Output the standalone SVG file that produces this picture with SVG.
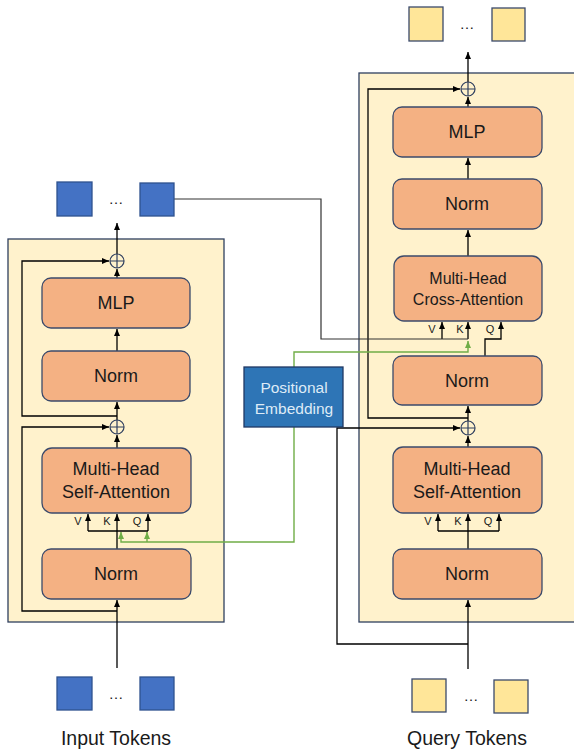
<svg xmlns="http://www.w3.org/2000/svg" width="574" height="751" viewBox="0 0 574 751">
<style>
.panel{fill:#FFF2CC;stroke:#2F3F5F;stroke-width:1.3}
.blk{fill:#F4B183;stroke:#3B4A6B;stroke-width:1.3}
.lbl{font-family:"Liberation Sans",Arial,sans-serif;fill:#1a1a1a;text-anchor:middle}
.big{font-size:18px}
.mid{font-size:16px}
.qkv{font-size:11px}
.tok{font-size:19.5px}
.dots{font-family:"Liberation Sans",Arial,sans-serif;font-size:15px;fill:#1a1a1a;text-anchor:middle}
.btok{fill:#4472C4;stroke:#2F528F;stroke-width:1.3}
.ytok{fill:#FFE699;stroke:#3B4A6B;stroke-width:1.3}
.ln{fill:none;stroke:#000;stroke-width:1.3}
.gray{fill:none;stroke:#333;stroke-width:1.2}
.grn{fill:none;stroke:#70AD47;stroke-width:1.4}
.plus{fill:none;stroke:#2F3F5F;stroke-width:1.2}
.pe{fill:#2E75B6;stroke:#1F3864;stroke-width:1.3}
.petxt{font-family:"Liberation Sans",Arial,sans-serif;font-size:15.5px;fill:#DEEBF7;text-anchor:middle}
</style>
<defs>
<marker id="ah" markerUnits="userSpaceOnUse" markerWidth="8" markerHeight="8" refX="7" refY="3" orient="auto">
<path d="M0,0 L7,3 L0,6 z" fill="#000"/>
</marker>
<marker id="ahg" markerUnits="userSpaceOnUse" markerWidth="8" markerHeight="8" refX="7" refY="3" orient="auto">
<path d="M0,0 L7,3 L0,6 z" fill="#70AD47"/>
</marker>
</defs>

<rect width="574" height="751" fill="#fff"/>

<g id="encoder-panel"><rect class="panel" x="8" y="239" width="216" height="383"/></g>
<g id="decoder-panel"><rect class="panel" x="359" y="73" width="225" height="549"/></g>

<g id="connectors">
<path class="ln" d="M117,668 V600" marker-end="url(#ah)"/>
<path class="ln" d="M117,611 H22 V427 H109" marker-end="url(#ah)"/>
<path class="ln" d="M117,549 V514" marker-end="url(#ah)"/>
<path class="ln" d="M88,531 H148"/>
<path class="ln" d="M88,531 V514" marker-end="url(#ah)"/>
<path class="ln" d="M148,531 V514" marker-end="url(#ah)"/>
<path class="ln" d="M117,448 V435" marker-end="url(#ah)"/>
<path class="ln" d="M117,420 V402" marker-end="url(#ah)"/>
<path class="ln" d="M117,416 H22 V261 H109" marker-end="url(#ah)"/>
<path class="ln" d="M117,351 V329" marker-end="url(#ah)"/>
<path class="ln" d="M117,278 V269" marker-end="url(#ah)"/>
<path class="ln" d="M117,254 V223" marker-end="url(#ah)"/>
<path class="ln" d="M468,669 V600" marker-end="url(#ah)"/>
<path class="ln" d="M468,644 H337 V428 H460" marker-end="url(#ah)"/>
<path class="ln" d="M468,549 V514" marker-end="url(#ah)"/>
<path class="ln" d="M438,531 H499"/>
<path class="ln" d="M438,531 V514" marker-end="url(#ah)"/>
<path class="ln" d="M499,531 V514" marker-end="url(#ah)"/>
<path class="ln" d="M468,447 V436" marker-end="url(#ah)"/>
<path class="ln" d="M468,421 V406" marker-end="url(#ah)"/>
<path class="ln" d="M468,418 H368 V89 H460" marker-end="url(#ah)"/>
<path class="ln" d="M485,356 V339 H501 V322" marker-end="url(#ah)"/>
<path class="ln" d="M442,339 V322" marker-end="url(#ah)"/>
<path class="ln" d="M468,339 V322" marker-end="url(#ah)"/>
<path class="ln" d="M468,256 V230" marker-end="url(#ah)"/>
<path class="ln" d="M468,179 V158" marker-end="url(#ah)"/>
<path class="ln" d="M468,107 V97" marker-end="url(#ah)"/>
<path class="ln" d="M468,82 V52" marker-end="url(#ah)"/>
<path class="gray" d="M174,199 H321 V339 H468"/>
<path class="grn" d="M294,367 V352 H468 V341" marker-end="url(#ahg)"/>
<path class="grn" d="M294,427 V542 H121 V532" marker-end="url(#ahg)"/>
<path class="grn" d="M147,542 V532" marker-end="url(#ahg)"/>
</g>

<g id="left-plus-top"><circle class="plus" cx="117" cy="261" r="7"/><path class="plus" d="M110,261 H124 M117,254 V268"/></g>
<g id="left-plus-bottom"><circle class="plus" cx="117" cy="427" r="7"/><path class="plus" d="M110,427 H124 M117,420 V434"/></g>
<g id="right-plus-top"><circle class="plus" cx="468" cy="89" r="7"/><path class="plus" d="M461,89 H475 M468,82 V96"/></g>
<g id="right-plus-bottom"><circle class="plus" cx="468" cy="428" r="7"/><path class="plus" d="M461,428 H475 M468,421 V435"/></g>

<g id="left-mlp"><rect class="blk" x="42" y="278" width="148" height="50" rx="9"/><text class="lbl big" x="116" y="309">MLP</text></g>
<g id="left-norm-top"><rect class="blk" x="42" y="351" width="148" height="50" rx="9"/><text class="lbl big" x="116" y="382">Norm</text></g>
<g id="left-mhsa"><rect class="blk" x="42" y="448" width="149" height="65" rx="10"/><text class="lbl big" x="116" y="475">Multi-Head</text><text class="lbl big" x="116" y="498">Self-Attention</text></g>
<g id="left-norm-bottom"><rect class="blk" x="42" y="549" width="149" height="50" rx="9"/><text class="lbl big" x="116" y="580">Norm</text></g>
<g id="left-qkv"><text class="lbl qkv" x="78" y="525">V</text><text class="lbl qkv" x="107" y="525">K</text><text class="lbl qkv" x="137" y="525">Q</text></g>

<g id="right-mlp"><rect class="blk" x="393" y="107" width="149" height="50" rx="9"/><text class="lbl big" x="467" y="138">MLP</text></g>
<g id="right-norm-top"><rect class="blk" x="393" y="179" width="149" height="50" rx="9"/><text class="lbl big" x="467" y="210">Norm</text></g>
<g id="right-mhca"><rect class="blk" x="394" y="256" width="148" height="65" rx="10"/><text class="lbl mid" x="468" y="284">Multi-Head</text><text class="lbl mid" x="468" y="305">Cross-Attention</text></g>
<g id="right-qkv-top"><text class="lbl qkv" x="432" y="333">V</text><text class="lbl qkv" x="460" y="333">K</text><text class="lbl qkv" x="490" y="333">Q</text></g>
<g id="right-norm-mid"><rect class="blk" x="393" y="356" width="149" height="49" rx="9"/><text class="lbl big" x="467" y="387">Norm</text></g>
<g id="right-mhsa"><rect class="blk" x="393" y="447" width="149" height="66" rx="10"/><text class="lbl big" x="467" y="475">Multi-Head</text><text class="lbl big" x="467" y="498">Self-Attention</text></g>
<g id="right-qkv-bottom"><text class="lbl qkv" x="428" y="525">V</text><text class="lbl qkv" x="458" y="525">K</text><text class="lbl qkv" x="488" y="525">Q</text></g>
<g id="right-norm-bottom"><rect class="blk" x="393" y="549" width="149" height="50" rx="9"/><text class="lbl big" x="467" y="580">Norm</text></g>

<g id="positional-embedding"><rect class="pe" x="244" y="367" width="99" height="60"/><text class="petxt" x="294" y="393">Positional</text><text class="petxt" x="294" y="414">Embedding</text></g>

<g id="encoder-output-tokens"><rect class="btok" x="57" y="182" width="35" height="34"/><text class="dots" x="116" y="204">…</text><rect class="btok" x="140" y="183" width="34" height="33"/></g>
<g id="input-tokens"><rect class="btok" x="57" y="677" width="35" height="33"/><text class="dots" x="116" y="699">…</text><rect class="btok" x="140" y="677" width="34" height="33"/><text class="lbl tok" x="116" y="745">Input Tokens</text></g>
<g id="decoder-output-tokens"><rect class="ytok" x="409" y="7" width="34" height="34"/><text class="dots" x="467" y="29">…</text><rect class="ytok" x="492" y="8" width="33" height="33"/></g>
<g id="query-tokens"><rect class="ytok" x="412" y="679" width="34" height="33"/><text class="dots" x="471" y="701">…</text><rect class="ytok" x="494" y="680" width="34" height="33"/><text class="lbl tok" x="467" y="745">Query Tokens</text></g>
</svg>
